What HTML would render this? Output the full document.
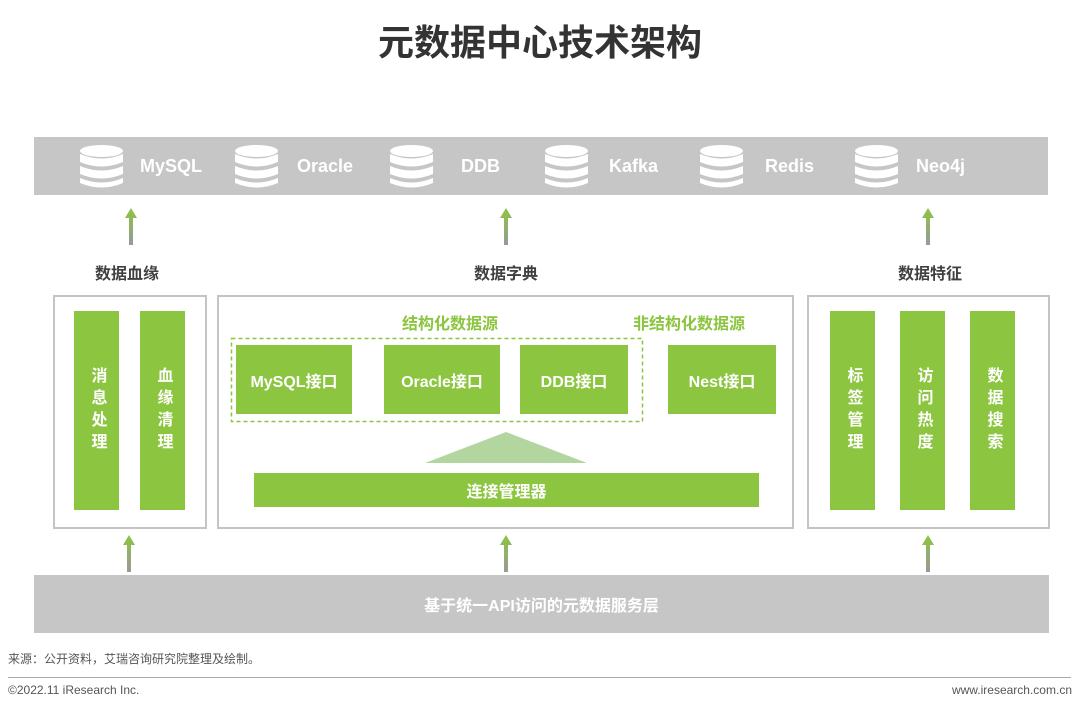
<!DOCTYPE html>
<html><head><meta charset="utf-8"><style>
body{margin:0;width:1080px;height:711px;background:#fff;position:relative;overflow:hidden;font-family:"Liberation Sans","Noto Sans CJK SC",sans-serif}
.a{position:absolute}
.g{background:#8cc540;color:#fff;font-weight:bold;display:flex;align-items:center;justify-content:center}
.box{position:absolute;border:2px solid #c4c4c4;box-sizing:border-box}
.v{writing-mode:vertical-rl;font-size:16px;letter-spacing:6px}
.lab{position:absolute;font-size:16px;font-weight:bold;color:#404040;transform:translateX(-50%);white-space:nowrap}
.db{position:absolute;top:145px;width:43px;height:44px}
.dbt{position:absolute;top:156px;color:#fff;font-weight:bold;font-size:18px}
</style></head><body>
<div class="a" style="left:0;width:1080px;top:14px;text-align:center;font-size:36px;font-weight:bold;color:#333">元数据中心技术架构</div>
<div class="a" style="left:34px;top:137px;width:1014px;height:58px;background:#c6c6c6"></div>
<svg width="0" height="0" style="position:absolute"><defs><g id="d"><ellipse cx="21.5" cy="6" rx="21.5" ry="6" fill="#fff"/><path d="M0 9 Q21.5 18 43 9 V17 Q21.5 26 0 17Z" fill="#fff"/><path d="M0 21 Q21.5 30 43 21 V29 Q21.5 38 0 29Z" fill="#fff"/><path d="M0 33 Q21.5 42 43 33 V38 Q21.5 47 0 38Z" fill="#fff"/></g></defs></svg>
<svg class="db" style="left:80px"><use href="#d"/></svg><div class="dbt" style="left:140px">MySQL</div>
<svg class="db" style="left:235px"><use href="#d"/></svg><div class="dbt" style="left:297px">Oracle</div>
<svg class="db" style="left:390px"><use href="#d"/></svg><div class="dbt" style="left:461px">DDB</div>
<svg class="db" style="left:545px"><use href="#d"/></svg><div class="dbt" style="left:609px">Kafka</div>
<svg class="db" style="left:700px"><use href="#d"/></svg><div class="dbt" style="left:765px">Redis</div>
<svg class="db" style="left:855px"><use href="#d"/></svg><div class="dbt" style="left:916px">Neo4j</div>
<svg class="a" style="left:0;top:0" width="1080" height="711">
<defs><linearGradient id="ar" x1="0" y1="1" x2="0" y2="0"><stop offset="0" stop-color="#999"/><stop offset="1" stop-color="#8cc540"/></linearGradient></defs>
<g fill="url(#ar)">
<path d="M129 245 V218 H125 L131 208 L137 218 H133 V245Z"/>
<path d="M504 245 V218 H500 L506 208 L512 218 H508 V245Z"/>
<path d="M926 245 V218 H922 L928 208 L934 218 H930 V245Z"/>
<path d="M127 572 V545 H123 L129 535 L135 545 H131 V572Z"/>
<path d="M504 572 V545 H500 L506 535 L512 545 H508 V572Z"/>
<path d="M926 572 V545 H922 L928 535 L934 545 H930 V572Z"/>
</g>
<polygon points="506,432 587,463 425,463" fill="#b3d6a1"/>
<rect x="231.5" y="338.5" width="411" height="83" fill="none" stroke="#8cc540" stroke-width="1.5" stroke-dasharray="4,3"/>
</svg>
<div class="lab" style="left:127px;top:260px">数据血缘</div>
<div class="lab" style="left:506px;top:260px">数据字典</div>
<div class="lab" style="left:930px;top:260px">数据特征</div>
<div class="box" style="left:53px;top:295px;width:154px;height:234px"></div>
<div class="box" style="left:217px;top:295px;width:577px;height:234px"></div>
<div class="box" style="left:807px;top:295px;width:243px;height:234px"></div>
<div class="a g v" style="left:74px;top:311px;width:45px;height:199px">消息处理</div>
<div class="a g v" style="left:140px;top:311px;width:45px;height:199px">血缘清理</div>
<div class="a g v" style="left:830px;top:311px;width:45px;height:199px">标签管理</div>
<div class="a g v" style="left:900px;top:311px;width:45px;height:199px">访问热度</div>
<div class="a g v" style="left:970px;top:311px;width:45px;height:199px">数据搜索</div>
<div class="lab" style="left:450px;top:310px;color:#8cc540">结构化数据源</div>
<div class="lab" style="left:689px;top:310px;color:#8cc540">非结构化数据源</div>
<div class="a g" style="left:236px;top:345px;width:116px;height:69px;font-size:16px">MySQL接口</div>
<div class="a g" style="left:384px;top:345px;width:116px;height:69px;font-size:16px">Oracle接口</div>
<div class="a g" style="left:520px;top:345px;width:108px;height:69px;font-size:16px">DDB接口</div>
<div class="a g" style="left:668px;top:345px;width:108px;height:69px;font-size:16px">Nest接口</div>
<div class="a g" style="left:254px;top:473px;width:505px;height:34px;font-size:16px">连接管理器</div>
<div class="a" style="left:34px;top:575px;width:1015px;height:58px;background:#c6c6c6;color:#fff;font-weight:bold;font-size:16px;display:flex;align-items:center;justify-content:center">基于统一API访问的元数据服务层</div>
<div class="a" style="left:8px;top:650px;font-size:12px;color:#555">来源：公开资料，艾瑞咨询研究院整理及绘制。</div>
<div class="a" style="left:8px;top:677px;width:1063px;height:1px;background:#aaa"></div>
<div class="a" style="left:8px;top:683px;font-size:12px;color:#555">©2022.11 iResearch Inc.</div>
<div class="a" style="right:8px;top:683px;font-size:12px;color:#555">www.iresearch.com.cn</div>
</body></html>
